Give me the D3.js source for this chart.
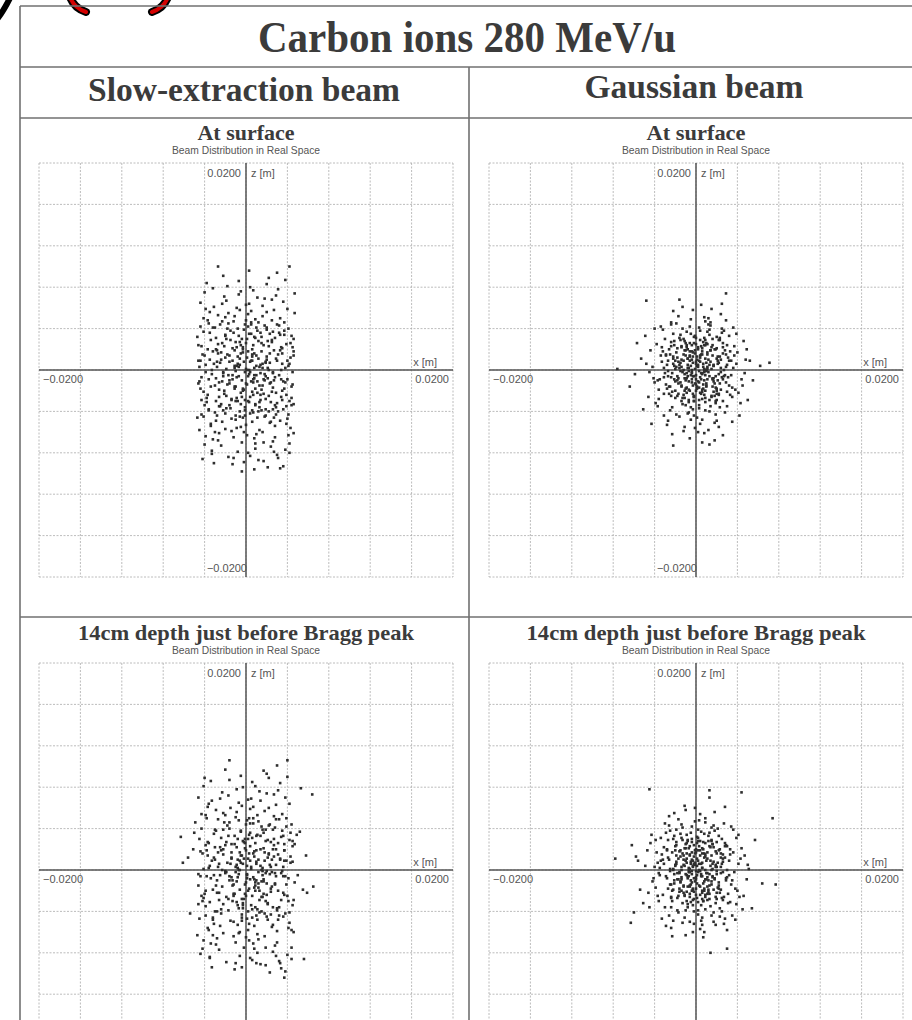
<!DOCTYPE html>
<html>
<head>
<meta charset="utf-8">
<script src="https://cdn.jsdelivr.net/npm/d3@7"></script>
<style>
  body { margin: 0; background: #fff; }
  svg { display: block; }
</style>
</head>
<body>
<svg width="912" height="1020"></svg>
<script>
const mainTitle = "Carbon ions 280 MeV/u";
const columnTitles = ["Slow-extraction beam", "Gaussian beam"];
const rowTitles = ["At surface", "14cm depth just before Bragg peak"];
const subTitle = "Beam Distribution in Real Space";
const axisRange = [-0.02, 0.02]; // metres, both x and z
const gridStep = 0.004;

// particle positions, [x, z] in mm
const slowSurface = [
  [-3.2,4.1],[1.7,-2.3],[0.4,0.8],[-1.9,6.7],[3.8,-1.2],[-0.6,-4.5],[2.5,2.9],[-4.3,-0.7],[0.9,-7.1],[-2.7,1.6],
  [4.4,3.3],[-1.1,-1.8],[2.1,0.2],[-3.6,-3.9],[0.2,5.4],[1.3,-5.8],[-2.2,-0.3],[3.1,7.8],[-4.6,2.4],[0.7,-0.9],
  [-0.3,2.2],[2.8,-3.4],[-1.5,3.8],[4.1,-6.3],[-3.9,5.9],[1.0,1.4],[-2.6,-6.1],[3.5,0.6],[-0.9,-2.7],[2.2,8.9],
  [-4.1,-2.1],[0.5,3.5],[1.9,-0.6],[-1.3,0.9],[3.0,-8.2],[-2.9,3.1],[4.6,1.8],[-0.1,-3.6],[1.6,6.2],[-3.4,-5.2],
  [2.6,-1.7],[-1.7,-8.4],[0.1,-1.4],[3.7,4.6],[-4.5,0.3],[1.2,-4.0],[-2.0,5.1],[4.2,-3.0],[-0.7,7.3],[2.9,1.1],
  [-3.0,-1.5],[0.8,-6.6],[-1.0,2.7],[3.3,-4.9],[-4.0,7.5],[2.0,3.9],[-2.4,-3.3],[0.3,9.6],[4.5,-0.2],[-0.5,-5.5],
  [1.4,0.5],[-3.7,2.0],[2.4,-7.4],[-1.6,-1.0],[3.9,2.5],[-0.2,-8.9],[1.8,4.3],[-2.8,-4.4],[4.7,5.5],[0.0,0.1],
  [-1.2,4.7],[3.4,-2.6],[-3.3,-7.8],[0.6,2.0],[2.3,-5.1],[-4.4,4.2],[1.1,7.0],[-2.1,-2.0],[3.6,-9.3],[-0.8,1.3],
  [2.7,5.8],[-3.8,-3.1],[0.2,-3.0],[4.0,0.9],[-1.8,8.1],[1.5,-1.9],[-2.5,0.7],[3.2,3.6],[-4.7,-4.6],[0.9,4.9],
  [-0.4,-7.0],[2.1,-0.8],[-3.1,6.1],[4.3,-5.6],[-1.4,-5.9],[0.7,-2.4],[3.0,9.4],[-2.3,2.6],[1.9,-3.8],[-4.2,-8.6],
  [0.1,3.0],[2.5,6.8],[-1.7,-0.5],[3.8,-7.7],[-3.5,1.0],[1.3,0.3],[-0.6,5.8],[4.4,-1.6],[-2.7,-6.8],[0.4,-4.2],
  [-2.0,3.4],[3.1,1.5],[-4.3,-2.9],[1.7,-8.8],[-0.9,0.4],[2.9,-4.3],[-3.2,7.9],[0.5,-1.1],[4.1,4.0],[-1.5,-3.7],
  [1.0,-6.2],[-3.6,4.5],[2.2,2.3],[-0.1,-0.2],[3.5,-2.0],[-2.2,9.1],[0.8,-9.6],[-4.6,-1.3],[1.6,5.2],[-1.0,-4.8],
  [3.9,-3.5],[-2.8,1.9],[0.3,6.4],[2.6,-6.9],[-1.9,-2.5],[4.6,3.0],[-0.3,1.7],[1.4,-2.9],[-3.9,-6.4],[2.0,8.3],
  [-1.1,-1.6],[0.6,0.9],[3.3,5.0],[-4.1,3.7],[1.8,-0.4],[-2.4,-7.3],[0.0,-5.3],[2.7,1.9],[-0.7,8.6],[4.2,-8.0],
  [-3.3,0.0],[1.2,2.8],[-0.5,-3.3],[3.6,6.6],[-1.3,-9.1],[2.3,-1.3],[-2.9,-0.8],[0.9,-7.6],[4.5,2.2],[-4.4,6.5],
  [0.2,-0.6],[-1.8,4.0],[2.8,-5.4],[-3.0,-4.1],[1.5,3.2],[-0.8,0.6],[3.4,-0.9],[-2.1,7.1],[0.6,-2.1],[4.0,-4.7],
  [-4.5,-5.8],[1.9,0.8],[-1.2,-6.5],[2.5,4.8],[-3.4,2.9],[0.4,-8.3],[3.7,-1.8],[-0.2,3.9],[1.1,-4.6],[-2.6,-1.2],
  [2.9,-2.2],[-0.9,6.0],[4.3,1.2],[-2.3,-5.0],[0.8,1.6],[-4.0,-3.4],[1.6,-6.0],[-1.6,1.4],[3.0,4.4],[-0.4,-9.8],
  [0.5,5.7],[-3.7,-2.4],[2.4,-3.1],[-1.0,-0.1],[3.8,8.7],[-2.5,4.4],[1.3,-1.5],[-0.6,-4.0],[4.6,-6.1],[-3.1,-9.0],
  [1.7,2.4],[-1.4,-2.9],[0.0,2.6],[2.1,-9.4],[-4.2,1.5],[3.2,-0.5],[-2.0,-5.7],[0.7,7.7],[-0.3,-1.8],[2.6,3.7],
  [-2.7,5.3],[4.4,-2.7],[-1.1,0.2],[0.1,-6.3],[3.5,2.1],[-3.6,-0.9],[1.0,4.1],[-0.8,-7.9],[2.2,-2.5],[-4.7,3.2],
  [0.3,0.0],[-2.2,-3.9],[3.1,-8.5],[-0.5,2.4],[1.8,6.9],[-3.2,-6.7],[4.1,0.4],[-1.7,5.5],[0.9,-3.4],[2.8,-6.5],
  [-0.1,4.4],[1.4,-0.3],[-4.0,-7.2],[2.0,1.0],[-2.7,10.0],[3.6,-3.8],[-2.8,0.8],[0.6,-5.0],[4.7,7.4],[-0.9,-0.7],
  [2.3,0.7],[-3.5,5.6],[1.1,-2.2],[-0.2,-6.0],[3.3,3.4],[-2.0,1.2],[0.4,8.0],[-4.3,-4.3],[1.7,-7.0],[-1.3,2.1],
  [4.0,5.9],[-2.6,-2.6],[0.8,0.2],[-0.7,3.3],[2.7,-1.0],[-3.9,0.5],[1.2,-8.7],[-1.8,-1.4],[3.9,-5.2],[0.0,6.3],
  [-3.0,-6.0],[2.5,2.7],[-0.4,-2.6],[1.5,1.8],[-2.3,6.4],[4.2,-7.1],[-1.0,-3.0],[0.5,4.6],[3.0,-3.2],[-4.4,-1.8],
  [1.9,-4.4],[-1.6,0.8],[0.2,-8.0],[3.4,0.0],[-2.9,-4.9],[0.9,3.1],[-0.6,1.1],[2.6,-0.2],[-3.8,8.4],[1.3,-3.6],
  [-1.4,-4.7],[4.5,-1.4],[-2.1,2.3],[0.7,-1.2],[2.0,5.6],[-3.3,-8.1],[1.6,0.6],[-0.1,-4.4],[3.7,3.8],[-4.6,0.9],
  [0.3,-3.1],[-2.4,1.7],[2.9,7.2],[-0.9,-5.6],[1.0,-0.5],[-3.7,4.8],[4.3,2.6],[-1.2,-8.5],[0.6,1.5],[2.4,-5.0],
  [-0.7,0.3],[1.4,3.6],[-2.6,-3.5],[3.3,-9.5],[-1.9,3.0],[0.1,1.2],[2.2,-4.0],[-4.1,5.0],[1.8,-1.0],[-0.5,7.6],
  [3.5,1.6],[-3.4,-5.4],[0.8,-0.8],[-1.1,5.2],[2.7,-7.9],[-2.2,-0.6],[0.2,4.2],[4.6,-3.3],[-0.3,-2.0],[4.2,10.0],
  [0.3,-0.4],[-1.1,1.9],[1.9,-2.8],[-2.3,-1.1],[0.8,3.2],[2.6,-0.3],[-0.5,-2.2],[-3.1,0.6],[1.2,1.1],[-1.6,-3.4],
  [3.4,2.2],[-0.2,0.8],[0.6,-3.9],[-2.7,2.5],[2.0,4.1],[-1.3,-0.9],[3.9,-2.4],[0.0,-1.3],[-3.8,-2.7],[1.5,2.6],
  [-0.8,4.0],[2.3,1.6],[-2.0,-4.2],[0.9,-1.8],[-4.0,1.4],[3.1,-4.0],[-0.4,3.0],[1.7,-0.9],[-1.9,0.1],[4.2,0.6],
  [0.2,1.8],[-2.9,-3.0],[2.8,3.1],[-1.0,-1.6],[0.5,4.4],[-3.5,3.6],[1.3,-3.1],[-0.6,0.5],[3.6,-1.1],[-2.4,1.0],
  [1.0,0.4],[-1.5,2.9],[2.5,-2.1],[-0.1,-3.9],[3.0,0.9],[-3.3,-0.4],[0.7,2.4],[-2.1,-2.3],[1.8,-4.5],[-0.7,-0.6],
  [4.4,-3.4],[-4.3,2.3],[0.4,-2.6],[-1.2,3.6],[2.2,0.0],[-2.6,-1.9],[1.1,3.8],[-0.3,-4.6],[3.3,1.9],[-1.8,1.5],
  [0.1,0.0],[-3.0,4.1],[2.9,-3.6],[-0.9,2.2],[1.6,-1.5],[-2.2,-0.2],[0.8,-0.5],[-4.5,-1.1],[3.7,3.4],[-1.4,-2.8],
  [0.6,1.3],[-0.4,-1.0],[2.1,2.8],[-3.6,-3.8],[1.4,-2.4],[-1.7,4.5],[4.0,-0.9],[-0.5,1.6],[2.7,-4.6],[-2.8,0.3],
  [1.9,0.7],[-1.0,-4.4],[0.3,3.5],[-3.2,1.8],[3.5,-2.9],[-0.2,-1.9],[1.2,4.6],[-2.5,-3.5],[2.4,-1.2],[-1.1,0.4],
  [0.9,-3.3],[-3.9,-0.2],[4.6,1.4],[-0.6,2.7],[1.6,0.2],[-2.0,3.3],[2.6,-3.8],[-1.6,-1.3],[0.4,-0.2],[3.2,4.3],
  [-4.1,-4.5],[1.1,-1.1],[-0.8,-3.0],[2.3,3.5],[-2.9,2.0],[0.0,4.8],[3.8,0.2],[-1.3,-0.5],[0.7,-4.1],[-3.4,-1.6],
  [2.0,1.3],[-0.3,2.0],[1.5,-3.9],[-2.3,4.7],[4.1,-4.3],[-1.9,-3.7],[0.5,0.9],[-0.1,-2.9],[2.8,-0.7],[-4.4,0.9]
];

const gaussSurface = [
  [0.4,1.2],[-1.8,-0.6],[2.3,2.9],[-0.7,-3.1],[1.1,0.3],[-3.2,1.8],[0.0,-1.4],[4.1,-2.2],[-2.4,4.6],[1.6,-0.9],
  [-0.3,0.7],[2.9,1.5],[-1.2,-2.4],[0.8,5.1],[-4.5,-0.2],[1.9,-4.3],[-0.9,2.2],[3.4,-0.5],[-2.0,0.1],[0.2,-6.0],
  [-1.5,3.4],[0.6,-1.9],[2.1,0.9],[-3.6,-2.8],[1.3,3.9],[-0.4,-0.3],[4.8,1.0],[-2.7,-4.9],[0.9,-2.7],[-1.0,1.4],
  [3.0,-3.5],[-0.2,2.6],[1.7,-1.1],[-2.2,0.6],[0.5,6.3],[-5.3,1.1],[2.5,4.0],[-1.4,-1.6],[0.1,0.4],[3.7,2.3],
  [-0.8,-4.2],[1.4,1.9],[-3.0,3.0],[2.0,-2.9],[-1.7,-0.8],[0.3,-3.7],[5.5,-1.0],[-0.5,4.9],[1.0,-0.1],[-2.6,2.0],
  [2.7,0.0],[-1.1,-5.5],[0.7,2.7],[-4.0,-1.2],[1.8,-5.1],[-0.1,1.6],[3.2,3.3],[-2.3,-2.1],[0.4,-0.7],[-1.6,6.8],
  [4.4,-0.9],[-0.6,-2.0],[1.2,4.4],[-3.3,0.8],[2.2,-0.4],[-1.3,-3.3],[0.0,3.1],[2.6,-6.3],[-5.9,-0.4],[0.9,1.1],
  [-2.1,-0.9],[1.5,-2.6],[-0.3,5.8],[3.9,0.6],[-1.0,-1.0],[0.6,-4.8],[-3.8,2.5],[2.0,2.1],[-0.7,0.2],[1.3,-7.2],
  [0.2,2.0],[-2.5,-3.9],[3.5,-1.7],[-1.4,1.0],[0.8,-0.2],[-0.2,-2.5],[2.4,5.4],[-4.6,-2.6],[1.7,0.5],[-0.9,3.7],
  [1.0,-1.5],[-3.4,4.2],[0.3,0.9],[2.8,-4.1],[-1.9,1.7],[6.2,0.4],[-0.4,-1.2],[1.6,3.0],[-2.9,-1.4],[-4.8,6.7],
  [-1.2,0.0],[2.1,1.3],[-0.6,-6.6],[3.3,-2.4],[-2.2,3.5],[0.7,-1.8],[-4.2,0.3],[1.9,-3.2],[-0.1,1.9],[4.6,2.8],
  [-0.5,-0.5],[1.1,2.5],[-2.8,-5.3],[0.0,-0.9],[3.6,0.2],[-1.5,2.9],[2.3,-1.3],[-3.7,-3.5],[0.9,4.7],[-0.2,-3.0],
  [2.5,3.6],[-1.8,1.2],[0.4,-2.2],[-0.8,0.5],[5.0,-2.9],[-2.4,-0.7],[1.4,0.8],[-4.9,3.3],[0.1,-4.6],[3.1,-0.7],
  [-1.3,4.0],[0.8,-1.0],[-2.0,-2.7],[2.2,0.7],[-0.4,2.4],[1.2,-5.8],[-3.1,0.2],[0.6,1.5],[4.2,-4.4],[-0.9,-1.7],
  [1.8,2.0],[-2.7,0.9],[0.3,-3.4],[2.9,4.8],[-1.1,-0.4],[-6.4,-1.6],[1.0,0.0],[-0.2,3.2],[3.8,-1.9],[-1.6,-4.5],
  [0.7,0.6],[-3.5,-0.9],[2.0,-2.0],[-0.6,1.3],[1.5,5.9],[-2.3,-6.2],[4.0,1.7],[-1.0,2.6],[0.2,-1.1],[2.6,-3.0],
  [-0.3,-2.3],[1.9,-0.6],[-4.4,1.9],[0.9,2.9],[-1.4,-3.0],[3.1,1.2],[-2.1,0.4],[0.4,-5.2],[1.3,3.4],[-0.7,-0.1],
  [2.4,-0.2],[-1.9,4.5],[0.0,0.8],[3.5,-5.0],[-2.8,-1.8],[1.1,1.7],[-0.5,-3.6],[5.2,0.9],[-3.3,2.2],[0.6,-2.8],
  [-1.1,2.8],[1.6,-1.6],[-0.2,-0.6],[2.7,3.8],[-3.9,-3.2],[0.8,0.1],[-1.7,5.2],[2.0,-4.9],[-0.6,1.8],[4.7,-0.3],
  [0.1,-1.8],[-2.5,1.5],[1.4,4.3],[-0.9,-2.2],[3.0,0.5],[-1.3,-0.2],[0.5,2.3],[-5.1,-3.8],[2.2,-2.3],[2.9,7.4],
  [1.2,1.0],[-2.0,-1.1],[0.6,-7.0],[-3.2,3.9],[2.6,2.6],[-0.7,-4.1],[1.7,-0.8],[-1.5,0.7],[3.9,3.5],[0.0,-2.0],
  [-0.8,1.1],[2.3,-3.6],[-2.6,-2.3],[0.3,4.1],[1.0,-1.3],[-4.1,-0.8],[3.3,1.8],[-1.2,-5.9],[0.7,0.3],[-0.1,3.3],
  [2.1,-1.0],[-1.6,3.1],[0.9,-3.9],[-3.0,-0.3],[1.5,2.2],[-0.3,-1.5],[4.3,-3.2],[-2.2,5.7],[0.4,1.4],[1.8,-6.8],
  [-1.0,-3.4],[0.2,0.5],[2.8,1.9],[-2.9,1.4],[0.6,-0.4],[-0.6,4.2],[3.5,-2.6],[-1.8,-2.5],[1.2,5.0],[-4.3,-5.2],
  [0.8,-2.4],[-1.4,0.3],[2.4,0.2],[-0.2,-4.4],[-2.4,2.7],[1.6,1.4],[-3.6,-1.9],[0.0,2.5],[2.9,-1.2],[-0.9,-0.8],
  [1.1,3.7],[-2.3,-3.6],[0.5,-0.9],[3.6,4.1],[-1.2,1.5],[0.3,-2.9],[-4.8,0.6],[1.9,-1.7],[-0.4,0.0],[2.5,6.4],
  [-1.7,-1.3],[0.9,2.4],[-0.1,-5.6],[2.0,1.1],[-3.1,-4.4],[1.4,-3.5],[-0.8,2.0],[4.9,2.0],[-2.0,0.9],[0.3,-1.2],
  [1.7,0.4],[-0.5,3.5],[-2.7,-0.6],[0.8,-6.1],[3.2,-1.5],[-1.1,-2.7],[2.3,3.1],[-3.4,1.4],[0.1,1.0],[-0.3,-3.8],
  [2.6,1.6],[-1.9,-4.3],[0.6,2.1],[-0.7,-1.9],[1.5,-2.5],[-4.0,4.0],[3.4,0.9],[-1.4,2.3],[-2.2,-7.3],[7.1,0.7],
  [-0.6,0.9],[1.3,-4.0],[-2.1,2.4],[0.4,3.8],[2.7,-0.6],[-3.7,-1.0],[0.9,-0.5],[-1.3,6.1],[3.7,1.4],[-0.2,-2.6],
  [1.0,2.6],[-2.6,-1.6],[0.1,-1.6],[2.2,-5.5],[-1.6,0.5],[-5.7,2.6],[1.4,4.6],[-0.5,-4.8],[3.0,2.4],[-1.1,1.9],
  [0.5,-0.3],[-3.1,-2.3],[2.0,3.2],[-0.8,-0.6],[1.7,-2.1],[-2.4,4.4],[4.5,-1.5],[-0.3,1.3],[0.9,-3.1],[-7.6,0.1],
  [0.2,0.3],[-0.8,1.1],[1.3,-0.6],[-1.5,-1.2],[0.6,1.8],[2.0,-1.8],[-0.4,-0.9],[-2.2,1.3],[1.0,0.7],[-1.1,-2.0],
  [2.4,1.0],[-0.1,0.1],[0.5,-2.3],[-1.8,2.1],[1.6,2.4],[-0.9,-0.3],[2.6,-0.9],[0.0,-0.5],[-2.5,-1.6],[1.1,1.5],
  [-0.6,2.6],[1.7,0.4],[-1.3,-2.7],[0.7,-1.4],[-2.8,0.5],[2.2,-2.4],[-0.3,1.7],[1.2,-0.2],[-1.6,0.2],[2.9,0.3],
  [0.1,1.3],[-2.0,-2.0],[1.9,2.0],[-0.7,-1.1],[0.4,2.9],[-2.4,2.3],[0.9,-2.0],[-0.5,0.4],[2.5,-0.7],[-1.7,0.8],
  [0.8,0.0],[-1.0,1.9],[1.8,-1.3],[-0.2,-2.6],[2.1,0.6],[-2.3,-0.3],[0.5,1.5],[-1.4,-1.5],[1.3,-2.9],[-0.4,-0.2],
  [3.0,-2.1],[-2.9,1.5],[0.3,-1.7],[-0.9,2.4],[1.5,0.1],[-1.8,-1.0],[0.8,2.4],[-0.2,-3.0],[2.3,1.3],[-1.2,0.9],
  [0.0,0.6],[-2.1,2.8],[2.0,-2.3],[-0.6,1.4],[1.1,-0.9],[-1.5,-0.1],[0.6,-0.3],[-3.1,-0.7],[2.6,2.2],[-1.0,-1.8],
  [0.4,0.8],[-0.3,-0.6],[1.4,1.9],[-2.4,-2.5],[1.0,-1.6],[-1.2,3.0],[2.8,-0.5],[-0.4,1.0],[1.9,-3.0],[-1.9,0.3],
  [1.3,0.5],[-0.7,-2.9],[0.2,2.2],[-2.2,1.1],[2.4,-1.9],[-0.1,-1.3],[0.8,3.1],[-1.7,-2.3],[1.6,-0.8],[-0.8,0.2],
  [0.6,-2.1],[-2.7,-0.1],[3.2,0.9],[-0.4,1.8],[1.1,0.1],[-1.4,2.2],[1.8,-2.5],[-1.1,-0.8],[0.3,-0.1],[2.2,2.9]
];

const slowBragg = [
  [-2.9,3.8],[1.5,-2.6],[0.2,1.1],[-1.7,7.2],[4.1,-0.8],[-0.4,-4.9],[2.7,2.4],[-4.6,-0.4],[0.8,-7.6],[-2.4,1.9],
  [5.2,3.7],[-1.3,-1.5],[2.3,0.5],[-3.9,-3.5],[0.4,5.9],[1.1,-6.2],[-2.0,-0.1],[3.3,8.4],[-5.1,2.0],[0.9,-1.2],
  [-0.1,2.6],[3.0,-3.9],[-1.8,4.3],[4.4,-5.8],[-3.6,6.4],[1.2,1.0],[-2.8,-6.6],[3.7,0.9],[-1.1,-2.3],[2.0,9.3],
  [-4.3,-2.5],[0.6,3.1],[1.7,-0.9],[-1.5,0.6],[3.2,-8.8],[-3.1,3.5],[5.8,1.4],[-0.3,-3.2],[1.4,6.7],[-3.7,-5.6],
  [2.8,-1.3],[-1.9,-8.9],[0.3,-1.8],[3.9,5.0],[-6.1,0.7],[1.0,-4.4],[-2.2,5.5],[4.5,-3.4],[-0.9,7.8],[3.1,1.5],
  [-3.2,-1.9],[0.7,-7.1],[-0.8,3.0],[3.6,-4.5],[-4.1,8.1],[2.2,4.3],[-2.6,-2.9],[-1.6,10.6],[5.0,-0.5],[-0.6,-6.0],
  [1.6,0.2],[-3.9,2.4],[2.6,-7.9],[-1.4,-0.7],[4.2,2.9],[-0.4,-9.4],[1.9,3.9],[-3.0,-4.0],[6.4,7.3],[0.1,0.4],
  [-1.0,5.1],[3.6,-2.2],[-3.5,-8.4],[0.4,2.3],[2.5,-5.5],[-4.9,4.6],[1.3,7.6],[-2.3,-1.6],[3.8,-9.8],[-0.6,1.7],
  [2.9,6.3],[-4.1,-2.7],[0.0,-2.5],[4.3,1.3],[-1.6,8.7],[1.7,-2.3],[-2.7,0.3],[3.4,3.2],[-5.4,-4.2],[1.1,5.3],
  [-0.2,-7.5],[2.3,-0.4],[-3.3,6.7],[4.6,-6.0],[-1.2,-6.4],[0.9,-2.0],[3.0,10.1],[-2.5,2.2],[2.1,-3.3],[-4.4,-8.1],
  [0.3,3.4],[2.7,7.3],[-1.9,-0.2],[4.0,-8.2],[-3.7,1.4],[1.5,0.0],[-0.4,6.2],[5.5,-1.9],[-2.9,-7.2],[0.6,-4.6],
  [-2.2,3.9],[3.3,1.1],[-4.6,-3.3],[1.9,-9.2],[-0.7,0.0],[3.1,-4.8],[-3.4,8.6],[0.7,-0.7],[4.4,4.4],[-1.3,-3.0],
  [1.2,-6.7],[-3.8,5.0],[2.4,2.7],[0.1,-0.5],[3.7,-2.4],[-2.0,9.7],[1.0,-9.0],[-6.3,3.2],[1.8,5.7],[-0.8,-5.3],
  [4.1,-3.0],[-3.0,2.2],[0.5,6.9],[2.8,-7.3],[-1.7,-2.8],[4.9,3.4],[-0.1,2.1],[1.6,-2.6],[-4.1,-6.8],[2.2,8.9],
  [-0.9,-1.1],[0.8,1.3],[3.5,5.4],[-4.3,4.0],[2.0,-0.1],[-2.6,-7.7],[0.2,-5.8],[2.9,2.0],[-0.5,9.1],[4.4,-8.6],
  [-3.5,0.4],[1.4,3.3],[-0.3,-3.7],[3.8,7.0],[-1.1,-9.6],[2.5,-1.6],[-3.1,-0.5],[1.1,-8.0],[4.7,2.5],[-4.6,7.0],
  [0.4,-0.9],[-1.6,4.6],[3.0,-5.9],[-3.2,-4.6],[1.7,3.6],[-0.6,0.9],[3.6,-0.6],[-2.3,7.5],[0.8,-1.7],[4.2,-5.1],
  [-4.7,-6.3],[2.1,1.2],[-1.0,-7.0],[2.7,5.2],[-3.6,2.6],[0.6,-8.7],[3.9,-1.4],[0.0,4.4],[1.3,-4.1],[-2.8,-1.0],
  [3.1,-2.0],[-0.7,6.5],[4.5,0.8],[-2.5,-5.4],[1.0,1.9],[-4.2,-3.0],[1.8,-6.4],[-1.4,1.7],[3.2,4.9],[3.7,-10.4],
  [0.7,6.1],[-3.9,-2.0],[2.6,-3.6],[-0.8,0.2],[4.0,9.0],[-2.7,4.9],[1.5,-1.1],[-0.4,-4.3],[5.6,-8.6],[-3.3,-9.4],
  [1.9,2.8],[-1.2,-2.5],[0.2,3.0],[2.3,-9.9],[-4.4,1.8],[3.4,-0.3],[-2.2,-6.1],[0.9,8.1],[-0.1,-1.4],[2.8,4.1],
  [-2.9,5.8],[4.6,-2.9],[-0.9,0.5],[0.3,-6.8],[3.7,2.5],[-3.8,-0.6],[1.2,4.7],[-0.6,-8.3],[2.4,-2.1],[-5.0,3.6],
  [0.5,0.3],[-2.4,-4.2],[3.3,-9.0],[-0.3,2.8],[2.0,7.4],[-3.4,-7.1],[4.3,0.7],[-1.5,6.0],[1.1,-3.8],[3.0,-7.0],
  [0.1,4.8],[1.6,-0.1],[-4.2,-7.6],[2.2,1.6],[4.0,10.6],[3.8,-4.2],[-3.0,1.0],[0.8,-5.4],[5.3,7.9],[-0.7,-0.4],
  [2.5,1.0],[-3.7,6.1],[1.3,-2.0],[0.0,-6.5],[3.5,3.8],[-2.2,1.5],[0.6,8.5],[-4.5,-4.7],[1.9,-7.5],[-1.1,2.5],
  [4.2,6.4],[-2.8,-2.2],[1.0,0.6],[-0.5,3.7],[2.9,-0.6],[-4.1,0.1],[1.4,-9.1],[-1.6,-1.0],[4.1,-5.6],[0.2,6.8],
  [-3.2,-6.3],[2.7,3.0],[-0.2,-2.8],[1.7,2.1],[-2.5,6.9],[4.4,-7.5],[-0.8,-3.4],[0.7,5.0],[3.2,-3.6],[-4.6,-1.5],
  [2.1,-4.8],[-1.4,1.1],[0.4,-8.5],[3.6,0.3],[-3.1,-5.2],[1.1,3.4],[-0.4,1.4],[2.8,-0.3],[-4.0,8.9],[1.5,-4.0],
  [-1.2,-5.0],[5.9,-2.2],[-1.9,2.7],[0.9,-1.5],[2.2,6.0],[-3.5,-8.5],[1.8,0.9],[0.1,-4.7],[3.9,4.2],[-5.6,1.2],
  [0.5,-3.4],[-2.2,2.0],[3.1,7.7],[-0.7,-6.1],[1.2,-0.2],[-3.9,5.3],[4.5,2.8],[-1.0,-9.0],[0.8,1.8],[2.6,-5.3],
  [-0.5,0.7],[1.6,3.9],[-2.4,-3.8],[3.4,-9.5],[-1.7,3.3],[0.3,1.6],[2.4,-4.3],[-4.3,5.4],[2.0,-1.3],[-0.3,8.0],
  [3.7,1.9],[-3.6,-5.8],[1.0,-1.0],[-0.9,5.6],[2.9,-8.3],[-2.0,-0.3],[0.4,4.5],[6.5,-1.6],[-0.1,-2.3],[1.7,9.6],
  [-0.3,0.6],[1.2,-1.7],[-2.0,2.4],[2.5,-0.2],[-0.9,-3.1],[3.3,1.0],[0.4,3.6],[-3.4,-0.8],[1.8,-4.2],[-1.4,1.2],
  [4.0,-2.5],[0.1,-0.4],[-2.6,-2.2],[2.1,2.9],[-0.7,4.8],[1.0,0.8],[-4.2,1.6],[3.0,-3.7],[-1.2,-1.4],[0.6,-2.5],
  [-3.0,3.9],[2.4,0.3],[-0.4,-4.6],[1.5,4.2],[-2.3,0.0],[4.5,2.3],[0.0,1.9],[-1.7,-3.9],[2.8,-1.4],[-3.7,2.7],
  [0.8,-0.9],[-0.2,2.7],[1.9,-3.0],[-2.8,-4.0],[3.6,3.3],[-1.0,0.3],[0.3,-5.2],[-4.0,-2.3],[2.2,1.5],[-0.6,-1.9],
  [1.4,2.0],[-2.1,4.6],[3.8,-0.6],[-0.8,1.0],[0.9,-3.6],[-3.3,0.9],[2.6,3.9],[-1.6,-0.6],[0.2,-2.0],[4.2,-4.1],
  [-1.1,3.3],[2.0,-2.4],[-2.7,1.7],[0.5,0.1],[3.1,2.6],[-0.3,-3.4],[1.6,-0.5],[-3.9,-4.4],[0.7,4.5],[-1.9,-2.6],
  [2.9,0.5],[-0.5,1.4],[1.1,-4.8],[-2.4,3.1],[4.7,-1.2],[-1.3,-1.0],[0.0,-1.2],[-3.6,0.2],[2.3,4.4],[-0.1,3.0],
  [1.7,-1.1],[-2.9,-1.5],[3.4,-2.9],[-0.9,2.2],[0.4,0.9],[-1.5,-4.9],[2.7,1.3],[-4.5,3.0],[1.3,-2.9],[-0.6,0.0],
  [3.9,0.9],[-2.2,-3.3],[0.9,2.6],[-1.0,-0.2],[2.0,-4.5],[-3.1,1.2],[0.3,5.0],[-0.4,-2.8],[1.8,1.7],[-2.5,-0.5],
  [4.3,3.6],[-1.8,0.7],[0.6,-3.8],[-0.2,1.1],[2.4,-1.8],[-3.5,-3.1],[1.0,3.3],[-1.4,2.5],[3.2,-4.4],[0.1,-0.8],
  [-4.4,-0.6],[2.6,2.0],[-0.7,-3.7],[1.4,0.4],[-2.0,5.3],[3.5,-0.1],[-1.2,-2.3],[0.7,1.6],[-3.2,-4.8],[2.1,-3.2],
  [-0.5,3.8],[1.9,-0.3],[-2.6,0.6],[0.2,-4.0],[3.7,1.9],[-1.6,4.0],[1.2,-1.3],[-0.8,-0.7],[2.9,4.9],[-3.8,1.9]
];

const gaussBragg = [
  [-0.6,1.5],[2.0,-0.4],[-1.4,3.1],[0.9,-2.6],[-3.5,0.2],[1.7,2.2],[-0.2,-4.0],[4.3,1.1],[-2.1,-1.3],[0.4,5.4],
  [1.2,-1.0],[-2.7,2.9],[3.1,-3.2],[-0.9,-0.5],[0.1,2.6],[-4.6,-2.2],[2.6,0.8],[-1.3,-5.1],[1.5,4.1],[-0.3,0.3],
  [3.8,-1.8],[-1.9,0.6],[0.6,-2.0],[-3.0,4.5],[2.2,3.3],[-0.5,-3.1],[5.1,0.1],[-2.4,-3.6],[0.8,1.2],[-1.1,6.2],
  [1.9,-5.3],[-3.8,1.7],[0.0,-0.9],[2.8,2.6],[-1.6,-1.8],[0.5,3.7],[-5.6,0.9],[3.5,-4.4],[-0.4,1.0],[1.1,-2.9],
  [-2.2,0.0],[0.7,-6.5],[2.4,1.6],[-1.0,2.1],[4.6,-2.5],[-3.3,-4.7],[1.4,0.4],[-0.1,4.7],[2.9,-0.8],[-1.8,-2.7],
  [0.3,-1.5],[-2.5,3.8],[1.8,5.6],[-0.7,-0.2],[3.3,2.0],[-4.2,-1.1],[0.9,-3.8],[-1.5,1.3],[2.1,-1.7],[-0.3,-6.0],
  [5.7,2.9],[-1.2,0.5],[0.2,2.8],[-3.6,-3.0],[1.6,-0.6],[-0.6,-2.3],[2.7,4.5],[-2.0,1.9],[0.6,-4.6],[-6.2,2.4],
  [1.0,0.9],[-0.8,-1.6],[3.9,-3.3],[-1.7,4.9],[0.4,-0.1],[-2.9,-5.4],[2.3,-2.2],[-0.2,2.4],[1.3,7.0],[-4.0,0.3],
  [0.1,-2.7],[-1.4,-0.7],[2.5,3.0],[-3.1,2.2],[1.7,-4.1],[-0.5,0.8],[4.1,0.6],[-2.3,-2.0],[0.8,3.5],[6.4,-1.3],
  [-1.0,-3.9],[1.9,1.8],[-0.4,4.2],[-2.8,-0.8],[3.0,-5.8],[0.6,0.2],[-1.9,2.7],[2.2,-1.2],[-5.1,-3.2],[0.0,1.7],
  [2.6,-2.9],[-0.9,3.4],[1.1,-0.3],[-3.4,0.9],[1.4,-8.0],[3.6,3.9],[-1.5,-1.2],[0.7,2.0],[-2.6,-4.4],[4.9,-0.9],
  [-0.2,0.6],[1.4,-3.5],[-4.4,2.6],[2.0,0.3],[-1.1,-2.5],[0.9,5.0],[-2.2,3.0],[3.4,-1.4],[-0.6,-5.0],[1.6,2.5],
  [-3.9,-1.7],[0.5,-0.4],[2.8,6.1],[-1.3,1.6],[1.2,-2.1],[-0.8,-3.3],[4.4,2.1],[-2.5,0.1],[0.2,3.9],[-6.3,-5.1],
  [1.8,-0.8],[-1.6,-0.2],[0.4,-5.7],[3.2,0.9],[-2.9,3.6],[0.0,-1.8],[2.1,4.0],[-0.9,1.1],[5.4,-3.7],[-3.2,-2.4],
  [0.7,2.7],[-1.8,-3.9],[2.4,-1.9],[-0.1,0.5],[1.5,1.4],[-4.7,1.9],[0.9,-2.4],[-2.1,5.5],[3.7,-0.2],[-0.5,-1.0],
  [2.2,1.9],[-1.0,-6.3],[0.1,3.2],[-3.5,-0.5],[1.7,-5.0],[-0.6,2.3],[3.0,0.0],[-2.4,-1.4],[0.6,-0.6],[-1.3,4.1],
  [4.0,-2.0],[-0.3,-2.9],[1.3,3.6],[-2.7,1.2],[0.8,-1.1],[-5.4,-1.9],[2.5,-4.0],[-1.4,0.3],[-4.5,7.8],[2.9,2.4],
  [-1.7,-0.9],[0.9,1.5],[-3.0,-3.6],[1.9,-2.6],[-0.4,3.0],[3.5,-1.0],[-2.0,2.3],[0.5,-3.4],[-0.7,0.0],[7.4,5.0],
  [1.1,-1.6],[-2.6,4.3],[0.2,-4.3],[2.6,1.1],[-1.2,-2.2],[-3.7,0.7],[1.5,2.9],[-0.4,-0.4],[3.3,-3.1],[-1.9,1.4],
  [0.6,0.7],[-4.3,3.4],[3.0,-7.6],[-0.8,2.9],[1.0,-0.9],[-2.3,-3.0],[4.7,1.4],[-1.1,-4.6],[0.0,2.0],[2.4,0.3],
  [-0.5,-1.4],[1.7,4.3],[-2.9,-0.6],[0.8,-2.0],[-1.5,3.5],[3.1,-2.3],[-0.2,1.3],[-6.0,-4.1],[1.3,-0.4],[-1.0,0.9],
  [2.8,-4.7],[-0.7,-0.6],[0.4,1.9],[-3.2,1.0],[1.9,0.5],[-1.3,-3.2],[3.9,3.1],[-2.1,-1.0],[0.7,-1.3],[-0.1,6.0],
  [1.4,2.2],[-2.4,-5.6],[0.2,-0.2],[2.3,-3.7],[-1.0,2.5],[-4.9,0.4],[0.9,4.6],[-0.6,-2.6],[3.6,1.7],[-1.8,-0.3],
  [0.5,-4.9],[-2.8,2.0],[1.6,-0.7],[-0.3,-1.9],[4.2,-2.6],[-1.6,1.8],[0.1,0.4],[2.7,-5.2],[-3.4,3.1],[1.2,3.3],
  [-0.9,-2.1],[2.0,2.7],[-1.4,4.4],[0.7,-3.0],[-3.7,-2.5],[3.2,-0.5],[-0.4,1.7],[1.5,-1.4],[-2.2,-4.9],[0.3,2.3],
  [5.0,0.5],[-1.2,1.0],[0.6,-5.3],[-2.5,-0.1],[1.8,3.8],[-0.8,-3.6],[2.5,-2.7],[-3.9,2.9],[0.9,0.0],[-0.2,-0.8],
  [1.3,-2.3],[-2.0,0.4],[3.4,4.2],[-0.5,3.6],[0.2,-3.9],[-4.5,-3.6],[2.1,0.7],[-1.2,-1.5],[4.4,7.5],[-3.1,0.6],
  [0.4,1.4],[2.9,-1.0],[-1.7,-4.1],[0.0,-2.4],[-2.6,5.2],[1.6,0.1],[-0.9,2.6],[4.5,-3.8],[-1.4,-0.9],[0.8,-6.0],
  [-3.3,1.5],[1.1,1.7],[-0.6,-1.6],[2.3,-4.5],[-2.1,3.3],[0.5,0.6],[3.0,2.3],[-5.8,1.3],[-0.3,-3.4],[1.7,-1.9],
  [-1.1,2.1],[2.6,-0.2],[-0.2,-5.2],[-2.7,-1.8],[1.2,2.8],[-0.7,0.2],[3.8,-4.8],[-1.9,3.9],[0.6,-2.8],[7.7,-1.4],
  [0.2,0.9],[-3.6,-0.3],[1.9,-3.2],[-1.0,5.8],[2.4,1.2],[-0.4,-2.0],[-2.3,-6.4],[4.1,3.4],[0.8,1.6],[-1.5,-1.1],
  [1.5,-4.4],[-0.8,2.8],[3.3,1.5],[-2.4,-2.6],[0.3,4.8],[-4.1,-0.8],[2.0,-0.1],[-0.1,-1.1],[-7.8,1.1],[1.3,7.7],
  [-0.3,0.4],[0.9,-0.9],[-1.2,1.4],[1.6,0.6],[-0.6,-1.5],[2.2,-1.5],[0.2,1.9],[-2.1,-0.4],[1.1,-2.3],[-0.9,0.7],
  [2.6,1.5],[0.0,-0.1],[-1.6,-2.1],[1.3,2.3],[-0.4,2.7],[0.6,0.2],[-2.6,1.0],[2.0,-2.2],[-0.8,-0.8],[0.4,-1.6],
  [-1.9,2.4],[1.5,0.0],[-0.2,-2.8],[0.9,2.6],[-1.4,0.0],[2.8,1.2],[0.1,1.1],[-1.1,-2.4],[1.8,-0.9],[-2.3,1.7],
  [0.5,-0.6],[-0.1,1.6],[1.2,-1.9],[-1.7,-2.5],[2.3,2.0],[-0.6,0.1],[0.2,-3.1],[-2.5,-1.4],[1.4,0.9],[-0.4,-1.2],
  [0.9,1.3],[-1.3,2.9],[2.4,-0.3],[-0.5,0.6],[0.6,-2.2],[-2.0,0.5],[1.6,2.5],[-1.0,-0.4],[0.1,-1.3],[2.7,-2.6],
  [-0.7,2.1],[1.3,-1.5],[-1.7,1.1],[0.3,0.0],[2.0,1.6],[-0.2,-2.1],[1.0,-0.3],[-2.4,-2.7],[0.4,2.8],[-1.2,-1.6],
  [1.9,0.3],[-0.3,0.9],[0.7,-3.0],[-1.5,1.9],[3.0,-0.7],[-0.8,-0.6],[0.0,-0.7],[-2.2,0.1],[1.5,2.8],[-0.1,1.9],
  [1.1,-0.7],[-1.8,-0.9],[2.2,-1.8],[-0.6,1.4],[0.3,0.6],[-0.9,-3.0],[1.7,0.8],[-2.8,1.9],[0.8,-1.8],[-0.4,-0.1],
  [2.5,0.6],[-1.4,-2.0],[0.6,1.6],[-0.6,-0.2],[1.3,-2.8],[-1.9,0.8],[0.2,3.1],[-0.3,-1.8],[1.1,1.1],[-1.6,-0.3],
  [2.8,2.3],[-1.1,0.4],[0.4,-2.4],[-0.1,0.7],[1.5,-1.1],[-2.2,-1.9],[0.6,2.1],[-0.9,1.6],[2.0,-2.8],[0.1,-0.5]
];

const panels = [
  { col: 0, row: 0, points: slowSurface },
  { col: 1, row: 0, points: gaussSurface },
  { col: 0, row: 1, points: slowBragg },
  { col: 1, row: 1, points: gaussBragg }
];

// layout of the scanned table
const W = 912, H = 1020;
const colLeft = [39, 489];
const rowTop = [163, 663];
const plotSize = 414;
const ink = "#3b3b3b";
const rule = "#707070";
const serif = "'Liberation Serif', 'Times New Roman', serif";
const sans = "'Liberation Sans', Arial, sans-serif";

const svg = d3.select("svg");

// red marker fragment cut by the top edge
const mark = svg.append("g").attr("fill", "none").attr("stroke-linecap", "round");
[["M-2,18 Q4,10 10,-2", "#000", 6], ["M70,-3 Q74,8 86,12", "#000", 8], ["M70,-3 Q74,8 86,12", "#d40000", 4],
 ["M168,-3 Q164,8 152,12", "#000", 8], ["M168,-3 Q164,8 152,12", "#d40000", 4]]
  .forEach(([d, c, w]) => mark.append("path").attr("d", d).attr("stroke", c).attr("stroke-width", w));

// table rules
const rules = svg.append("g").attr("stroke", rule).attr("stroke-width", 1.6);
[[20, 6, W, 6], [20, 67, W, 67], [20, 118, W, 118], [20, 617, W, 617],
 [20, 6, 20, H], [469, 67, 469, H]]
  .forEach(([x1, y1, x2, y2]) => rules.append("line")
    .attr("x1", x1).attr("y1", y1).attr("x2", x2).attr("y2", y2));

svg.append("text")
  .attr("x", 467).attr("y", 52)
  .attr("text-anchor", "middle")
  .attr("font-family", serif).attr("font-weight", "bold").attr("font-size", 44)
  .attr("textLength", 418).attr("lengthAdjust", "spacingAndGlyphs")
  .attr("fill", ink)
  .text(mainTitle);

const headerLen = [312, 219];
const headerY = [101, 98];
columnTitles.forEach((t, i) => {
  svg.append("text")
    .attr("x", i === 0 ? 244 : 694).attr("y", headerY[i])
    .attr("text-anchor", "middle")
    .attr("font-family", serif).attr("font-weight", "bold").attr("font-size", 34)
    .attr("textLength", headerLen[i]).attr("lengthAdjust", "spacingAndGlyphs")
    .attr("fill", ink)
    .text(t);
});

const titleLen = [[97, 99], [336, 339]];
const fmt = d3.format(".4f");

panels.forEach(p => {
  const x0 = colLeft[p.col], y0 = rowTop[p.row];
  const x = d3.scaleLinear().domain(axisRange).range([x0, x0 + plotSize]);
  const y = d3.scaleLinear().domain(axisRange).range([y0 + plotSize, y0]);
  const g = svg.append("g");
  const cx = x0 + plotSize / 2;

  g.append("text")
    .attr("x", cx).attr("y", y0 - 23)
    .attr("text-anchor", "middle")
    .attr("font-family", serif).attr("font-weight", "bold").attr("font-size", 22)
    .attr("textLength", titleLen[p.row][p.col]).attr("lengthAdjust", "spacingAndGlyphs")
    .attr("fill", ink)
    .text(rowTitles[p.row]);
  g.append("text")
    .attr("x", cx).attr("y", y0 - 9)
    .attr("text-anchor", "middle")
    .attr("font-family", sans).attr("font-size", 10.5)
    .attr("textLength", 148).attr("lengthAdjust", "spacingAndGlyphs")
    .attr("fill", "#555")
    .text(subTitle);

  const grid = d3.range(11).map(i => axisRange[0] + i * gridStep);
  const gg = g.append("g")
    .attr("stroke", "#ababab").attr("stroke-width", 0.8).attr("stroke-dasharray", "2,1.5");
  gg.selectAll(".gx").data(grid).join("line")
    .attr("x1", d => x(d)).attr("x2", d => x(d))
    .attr("y1", y0).attr("y2", y0 + plotSize);
  gg.selectAll(".gy").data(grid).join("line")
    .attr("y1", d => y(d)).attr("y2", d => y(d))
    .attr("x1", x0).attr("x2", x0 + plotSize);

  // main axes through the origin
  const ax = g.append("g").attr("stroke", "#555").attr("stroke-width", 1.5);
  ax.append("line").attr("x1", x(0)).attr("x2", x(0)).attr("y1", y0).attr("y2", y0 + plotSize);
  ax.append("line").attr("x1", x0).attr("x2", x0 + plotSize).attr("y1", y(0)).attr("y2", y(0));

  g.selectAll(".pt").data(p.points).join("rect")
    .attr("x", d => x(d[0] / 1000) - 1.3)
    .attr("y", d => y(d[1] / 1000) - 1.3)
    .attr("width", 2.6).attr("height", 2.6)
    .attr("fill", "#2e2e2e");

  const lab = g.append("g")
    .attr("font-family", sans).attr("font-size", 11).attr("fill", "#555");
  lab.append("text").attr("x", x(0) - 5).attr("y", y0 + 14)
    .attr("text-anchor", "end").text(fmt(axisRange[1]));
  lab.append("text").attr("x", x(0) + 5).attr("y", y0 + 14).text("z [m]");
  lab.append("text").attr("x", x0 + 4).attr("y", y(0) + 13).text(fmt(axisRange[0]));
  lab.append("text").attr("x", x0 + plotSize - 4).attr("y", y(0) + 13)
    .attr("text-anchor", "end").text(fmt(axisRange[1]));
  lab.append("text").attr("x", x0 + plotSize - 16).attr("y", y(0) - 4)
    .attr("text-anchor", "end").text("x [m]");
  // the lower panels run past the bottom of the page, so their bottom label is not visible
  if (y0 + plotSize < H) {
    lab.append("text").attr("x", x(0) + 1).attr("y", y0 + plotSize - 5)
      .attr("text-anchor", "end").text(fmt(axisRange[0]));
  }
});
</script>
</body>
</html>
